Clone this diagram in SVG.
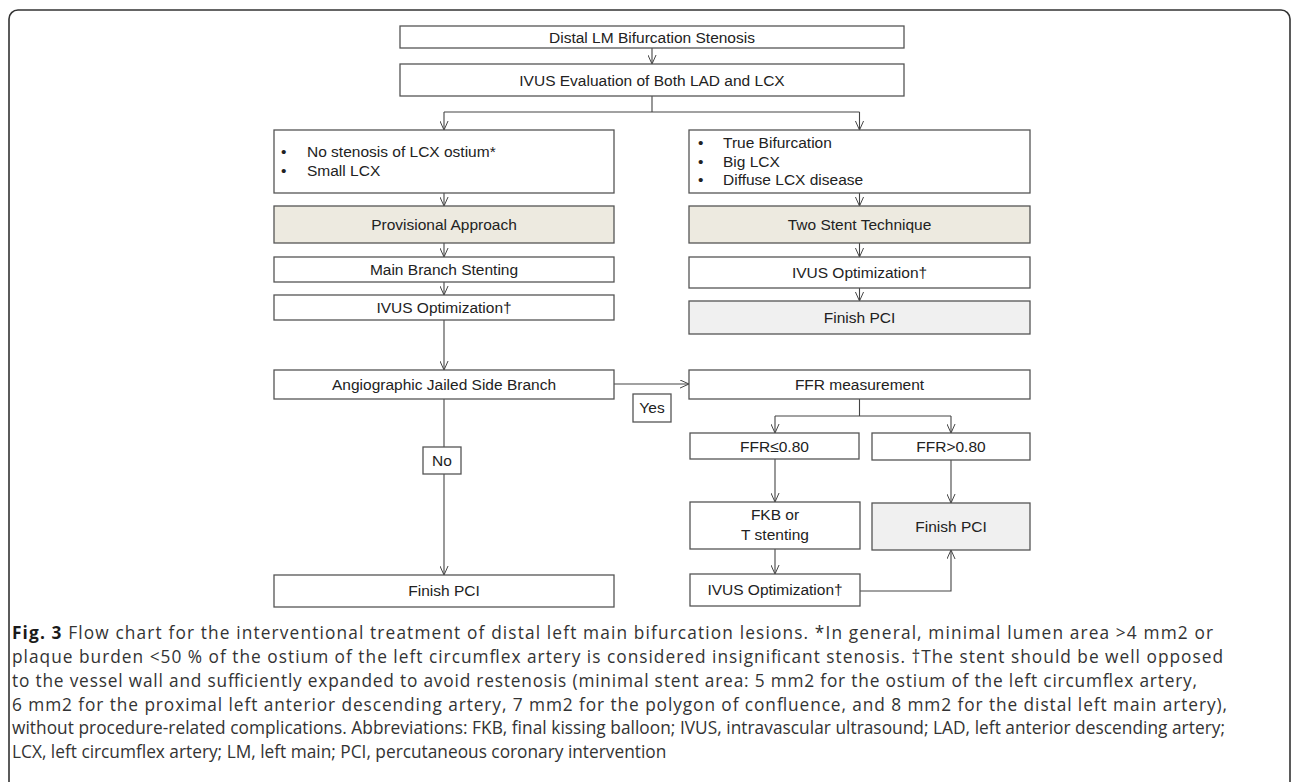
<svg xmlns="http://www.w3.org/2000/svg" width="1292" height="782" viewBox="0 0 1292 782">
<defs>
<marker id="arr" viewBox="0 0 10 10" refX="10" refY="5" markerWidth="9" markerHeight="9" markerUnits="userSpaceOnUse" orient="auto">
<path d="M0,0.5 L10,5 L0,9.5" fill="none" stroke="#444" stroke-width="1.1"/>
</marker>
</defs>
<style>
.box{fill:#fff;stroke:#555;stroke-width:1.3}
.beige{fill:#edeae0;stroke:#555;stroke-width:1.3}
.grey{fill:#f0f0f0;stroke:#555;stroke-width:1.3}
.t{font-family:"Liberation Sans",Arial,sans-serif;font-size:15.5px;fill:#222;text-anchor:middle}
.l{font-family:"Liberation Sans",Arial,sans-serif;font-size:15.5px;fill:#222}
.c{fill:none;stroke:#444;stroke-width:1.1}
.cap{font-family:"Open Sans",sans-serif;font-size:17.3px;fill:#333}
</style>
<rect x="9" y="10" width="1281" height="800" rx="9" fill="none" stroke="#333" stroke-width="1.6"/>
<g id="connectors">
<path class="c" d="M652,48 V64" marker-end="url(#arr)"/>
<path class="c" d="M652,96 V112 M444,112 H859.5"/>
<path class="c" d="M444,112 V130" marker-end="url(#arr)"/>
<path class="c" d="M859.5,112 V130" marker-end="url(#arr)"/>
<path class="c" d="M444,193 V206" marker-end="url(#arr)"/>
<path class="c" d="M859.5,193 V206" marker-end="url(#arr)"/>
<path class="c" d="M444,243 V257" marker-end="url(#arr)"/>
<path class="c" d="M859.5,243 V257" marker-end="url(#arr)"/>
<path class="c" d="M444,282 V295" marker-end="url(#arr)"/>
<path class="c" d="M859.5,288 V301" marker-end="url(#arr)"/>
<path class="c" d="M444,320 V370" marker-end="url(#arr)"/>
<path class="c" d="M614,384 H689" marker-end="url(#arr)"/>
<path class="c" d="M444,399 V575" marker-end="url(#arr)"/>
<path class="c" d="M859.5,399 V416 M775,416 H951"/>
<path class="c" d="M775,416 V433" marker-end="url(#arr)"/>
<path class="c" d="M951,416 V433" marker-end="url(#arr)"/>
<path class="c" d="M775,459 V502" marker-end="url(#arr)"/>
<path class="c" d="M951,460 V503" marker-end="url(#arr)"/>
<path class="c" d="M775,549 V574" marker-end="url(#arr)"/>
<path class="c" d="M860,591 H951 V550" marker-end="url(#arr)"/>
</g>
<g id="n1"><rect class="box" x="400" y="26" width="504" height="22"/><text class="t" x="652" y="42.5">Distal LM Bifurcation Stenosis</text></g>
<g id="n2"><rect class="box" x="400" y="64" width="504" height="32"/><text class="t" x="652" y="85.5">IVUS Evaluation of Both LAD and LCX</text></g>
<g id="n3"><rect class="box" x="274" y="130" width="340" height="63"/>
<text class="l" x="281" y="157">•</text><text class="l" x="307" y="157">No stenosis of LCX ostium*</text>
<text class="l" x="281" y="176">•</text><text class="l" x="307" y="176">Small LCX</text></g>
<g id="n4"><rect class="box" x="689" y="130" width="341" height="63"/>
<text class="l" x="698" y="148">•</text><text class="l" x="723" y="148">True Bifurcation</text>
<text class="l" x="698" y="166.5">•</text><text class="l" x="723" y="166.5">Big LCX</text>
<text class="l" x="698" y="185">•</text><text class="l" x="723" y="185">Diffuse LCX disease</text></g>
<g id="n5"><rect class="beige" x="274" y="206" width="340" height="37"/><text class="t" x="444" y="230">Provisional Approach</text></g>
<g id="n6"><rect class="beige" x="689" y="206" width="341" height="37"/><text class="t" x="859.5" y="230">Two Stent Technique</text></g>
<g id="n7"><rect class="box" x="274" y="257" width="340" height="25"/><text class="t" x="444" y="275">Main Branch Stenting</text></g>
<g id="n8"><rect class="box" x="274" y="295" width="340" height="25"/><text class="t" x="444" y="313">IVUS Optimization†</text></g>
<g id="n9"><rect class="box" x="689" y="257" width="341" height="31"/><text class="t" x="859.5" y="278">IVUS Optimization†</text></g>
<g id="n10"><rect class="grey" x="689" y="301" width="341" height="33"/><text class="t" x="859.5" y="323">Finish PCI</text></g>
<g id="n11"><rect class="box" x="274" y="370" width="340" height="29"/><text class="t" x="444" y="390">Angiographic Jailed Side Branch</text></g>
<g id="n12"><rect class="box" x="689" y="370" width="341" height="29"/><text class="t" x="859.5" y="390">FFR measurement</text></g>
<g id="yes"><rect class="box" x="633" y="394" width="38" height="28"/><text class="t" x="652" y="413">Yes</text></g>
<g id="no"><rect class="box" x="423" y="447" width="38" height="27"/><text class="t" x="442" y="466">No</text></g>
<g id="n13"><rect class="box" x="274" y="575" width="340" height="32"/><text class="t" x="444" y="596">Finish PCI</text></g>
<g id="n14"><rect class="box" x="690" y="433" width="169" height="26"/><text class="t" x="774.5" y="452">FFR≤0.80</text></g>
<g id="n15"><rect class="box" x="872" y="433" width="158" height="27"/><text class="t" x="951" y="452">FFR&gt;0.80</text></g>
<g id="n16"><rect class="box" x="690" y="502" width="170" height="47"/><text class="t" x="775" y="520">FKB or</text><text class="t" x="775" y="540">T stenting</text></g>
<g id="n17"><rect class="grey" x="872" y="503" width="158" height="47"/><text class="t" x="951" y="532">Finish PCI</text></g>
<g id="n18"><rect class="box" x="690" y="574" width="170" height="32"/><text class="t" x="775" y="595">IVUS Optimization†</text></g>
<g id="caption">
<text class="cap" x="12" y="639" textLength="1201" lengthAdjust="spacing"><tspan font-weight="bold" fill="#1a1a1a">Fig. 3</tspan> Flow chart for the interventional treatment of distal left main bifurcation lesions. *In general, minimal lumen area &gt;4 mm2 or</text>
<text class="cap" x="12" y="662.5" textLength="1211" lengthAdjust="spacing">plaque burden &lt;50 % of the ostium of the left circumflex artery is considered insignificant stenosis. †The stent should be well opposed</text>
<text class="cap" x="12" y="686.5" textLength="1185" lengthAdjust="spacing">to the vessel wall and sufficiently expanded to avoid restenosis (minimal stent area: 5 mm2 for the ostium of the left circumflex artery,</text>
<text class="cap" x="12" y="710.5" textLength="1215" lengthAdjust="spacing">6 mm2 for the proximal left anterior descending artery, 7 mm2 for the polygon of confluence, and 8 mm2 for the distal left main artery),</text>
<text class="cap" x="12" y="734" textLength="1213" lengthAdjust="spacing">without procedure-related complications. Abbreviations: FKB, final kissing balloon; IVUS, intravascular ultrasound; LAD, left anterior descending artery;</text>
<text class="cap" x="12" y="757.5">LCX, left circumflex artery; LM, left main; PCI, percutaneous coronary intervention</text>
</g>
</svg>
